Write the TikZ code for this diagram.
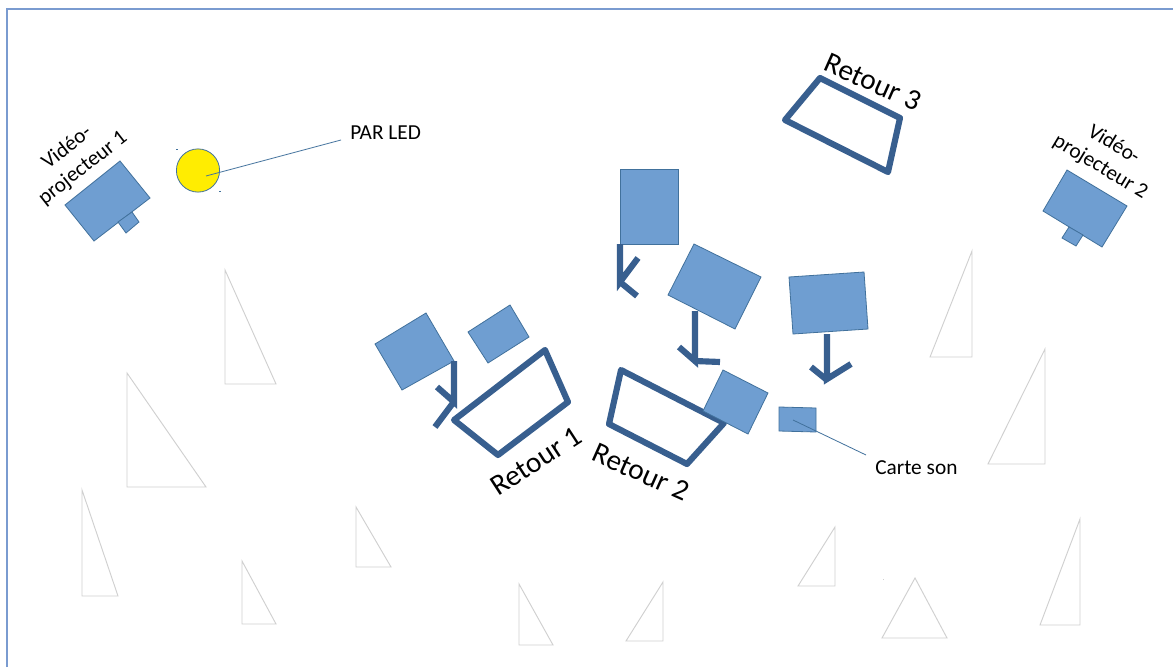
\documentclass[tikz,border=0pt]{standalone}
\usepackage{fontspec}
\setmainfont{Carlito}
\definecolor{fillb}{HTML}{6F9ED1}
\definecolor{edgeb}{HTML}{41719C}
\definecolor{thickb}{HTML}{385F8F}
\definecolor{frameb}{HTML}{7A9BD0}
\definecolor{triang}{HTML}{D0D0D0}
\tikzset{
 x=0.75pt,y=-0.75pt,
 box/.style={draw=edgeb,fill=fillb,line width=0.6pt,line join=miter},
 retour/.style={draw=thickb,line width=4.6pt,line join=round},
 leg/.style={draw=thickb,line width=4.6pt,line join=miter},
 seat/.style={draw=triang,line width=0.7pt,fill=white},
 lead/.style={draw=edgeb,line width=0.6pt},
 lab/.style={font=\fontsize{16pt}{19.5pt}\selectfont,inner sep=0pt,align=center},
 bigl/.style={font=\fontsize{22pt}{26pt}\selectfont,inner sep=0pt},
}
\begin{document}
\begin{tikzpicture}
\useasboundingbox (0,0) rectangle (1173,667);
\fill[white] (0,0) rectangle (1173,667);
\draw[frameb,line width=0.9pt] (7,667) -- (7,9) -- (1173,9);
% seats
\draw[seat] (225,270) -- (276,384) -- (225,384) -- cycle;
\draw[seat] (127,373) -- (206,487) -- (127,487) -- cycle;
\draw[seat] (82,490) -- (118,596) -- (82,596) -- cycle;
\draw[seat] (356,507) -- (391,567) -- (356,567) -- cycle;
\draw[seat] (242,561) -- (276,624) -- (242,624) -- cycle;
\draw[seat] (519,584) -- (553,645) -- (519,645) -- cycle;
\draw[seat] (663,582) -- (663,641) -- (626,641) -- cycle;
\draw[seat] (835,527) -- (835,586) -- (798,586) -- cycle;
\draw[seat] (915,578) -- (947,638) -- (882,638) -- cycle;
\draw[seat] (1080,519) -- (1080,625) -- (1040,625) -- cycle;
\draw[seat] (972,251) -- (972,357) -- (930,357) -- cycle;
\draw[seat] (1045,349) -- (1045,464) -- (988,464) -- cycle;
\fill[triang] (882.5,578.5) rectangle +(1,1);
% video projectors
\draw[box] (120,161) -- (150,198) -- (94,241) -- (65,205) -- cycle;
\draw[box] (132,212) -- (139,222) -- (126,233) -- (118,222) -- cycle;
\draw[box] (1067,170) -- (1127,206) -- (1102,247) -- (1043,211) -- cycle;
\draw[box] (1069,227) -- (1083,235) -- (1076,246) -- (1062,238) -- cycle;
\node[lab,rotate=-31] (vp2) at (1107,156) {Vidéo-\\projecteur 2};
\node[lab,rotate=38] (vp1) at (75,158) {Vidéo-\\projecteur 1};
% PAR LED
\node[circle,draw=edgeb,fill=yellow!95!orange,line width=0.6pt,minimum size=32.4pt,inner sep=0pt] (par) at (198,170.5) {};
\node[lab,anchor=west] (parl) at (350,133) {PAR LED};
\coordinate (parend) at (341,140);
\coordinate (parin) at (206,176);
\draw[lead] (parend) -- (parin);
\fill[edgeb] (176,149) rectangle +(1.5,1);
\fill[edgeb] (219,191) rectangle +(1.5,1);
% speakers
\draw[box] (426,313) -- (454,361) -- (402,390) -- (375,344) -- cycle;
\draw[box] (510,305) -- (529,337) -- (488,363) -- (468,332) -- cycle;
\draw[box] (620,169) rectangle (678,244);
\draw[box] (694,244) -- (761,277) -- (735,329) -- (668,295) -- cycle;
\draw[box] (789,277) -- (864,272) -- (868,329) -- (793,334) -- cycle;
% stands
\draw[leg] (454,361) -- (454,402) -- (437,387);
\draw[leg] (453,403) -- (435,427);
\draw[leg] (620,244) -- (620,282) -- (638,258);
\draw[leg] (620,282) -- (637,296);
\draw[leg] (695,311) -- (695,361) -- (679,347);
\draw[leg] (695,361) -- (720,362);
\draw[leg] (827,334) -- (827,379) -- (851,364);
\draw[leg] (827,380) -- (811,367);
% retours
\draw[retour] (545,350) -- (568,402) -- (498,455) -- (454,420) -- cycle;
\draw[retour] (621,370) -- (724,423) -- (687,464) -- (609,424) -- cycle;
\draw[retour] (820,78) -- (900,118) -- (888,172) -- (785,120) -- cycle;
\node[bigl,rotate=33] (r1) at (536,461) {Retour 1};
\node[bigl,rotate=-24] (r2) at (641,472) {Retour 2};
\node[bigl,rotate=-24] (r3) at (873,82) {Retour 3};
% box over retour 2
\draw[box] (723,370) -- (768,393) -- (748,434) -- (703,411) -- cycle;
% sound card
\draw[box] (779,407) -- (816,408) -- (816,432) -- (779,431) -- cycle;
\node[lab,anchor=west] (carte) at (875,468) {Carte son};
\coordinate (cend) at (866,455);
\coordinate (cin) at (793,420);
\draw[lead] (cend) -- (cin);
\end{tikzpicture}
\end{document}
